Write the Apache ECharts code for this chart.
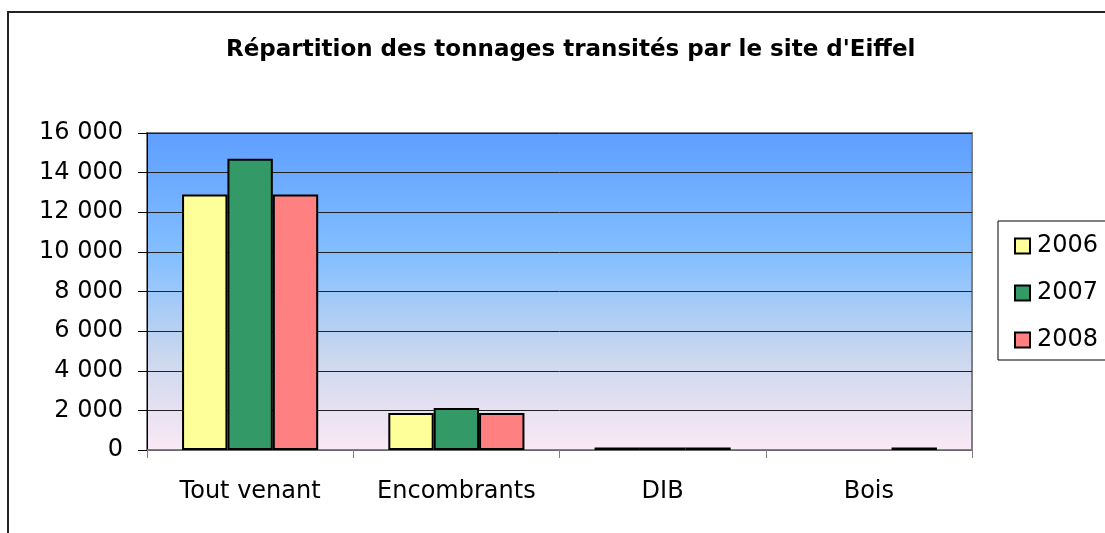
<!DOCTYPE html>
<html>
<head>
<meta charset="utf-8">
<script src="https://cdn.jsdelivr.net/npm/echarts@6/dist/echarts.min.js"></script>
<style>
  html, body { margin: 0; padding: 0; background: #fff; }
  #chart { width: 1105px; height: 533px; }
</style>
</head>
<body>
<div id="chart"></div>
<script>
// données
const categories = ['Tout venant', 'Encombrants', 'DIB', 'Bois'];
const years = ['2006', '2007', '2008'];
const values2006 = [12900, 1870, 120, 0];
const values2007 = [14700, 2120, 120, 0];
const values2008 = [12900, 1870, 120, 120];
const yTicks = [0, 2000, 4000, 6000, 8000, 10000, 12000, 14000, 16000];

const colors = ['#FFFF99', '#339966', '#FF8080'];
const font = '"DejaVu Sans", Arial, sans-serif';

const chart = echarts.init(document.getElementById('chart'));

const seriesData = [values2006, values2007, values2008];

chart.setOption({
  animation: false,
  textStyle: { fontFamily: font },
  title: {
    text: "Répartition des tonnages transités par le site d'Eiffel",
    left: 221,
    top: 34,
    textStyle: { fontSize: 23, fontWeight: 'bold', color: '#000', fontFamily: font }
  },
  graphic: [
    {
      type: 'rect',
      shape: { x: 8, y: 12, width: 1200, height: 600 },
      style: { fill: 'none', stroke: '#222', lineWidth: 2 },
      z: -10
    },
    {
      type: 'rect',
      shape: { x: 998, y: 221, width: 200, height: 139 },
      style: { fill: '#fff', stroke: '#000', lineWidth: 1 },
      z: 0
    }
  ],
  legend: {
    orient: 'vertical',
    left: 1009,
    top: 229,
    itemGap: 23,
    itemWidth: 15,
    itemHeight: 15,
    icon: 'rect',
    data: years,
    textStyle: { fontSize: 24, color: '#000', fontFamily: font, padding: [0, 0, 0, 2] },
    z: 5
  },
  grid: {
    left: 147,
    right: 133,
    top: 133,
    bottom: 83,
    show: true,
    borderColor: '#808080',
    borderWidth: 2,
    backgroundColor: new echarts.graphic.LinearGradient(0, 0, 0, 1, [
      { offset: 0, color: '#5E9EFF' },
      { offset: 0.4, color: '#85C0FF' },
      { offset: 0.7, color: '#CAD7EE' },
      { offset: 1, color: '#FBE9F6' }
    ])
  },
  xAxis: {
    type: 'category',
    data: categories,
    axisLine: { lineStyle: { color: '#808080', width: 1.5 } },
    axisTick: { show: true, alignWithLabel: false, length: 8, lineStyle: { color: '#808080' } },
    axisLabel: { fontSize: 24, color: '#000', margin: 30, fontFamily: font }
  },
  yAxis: {
    type: 'value',
    min: 0,
    max: 16000,
    interval: 2000,
    axisLine: { show: true, lineStyle: { color: '#000', width: 1 } },
    axisTick: { show: true, length: 9, lineStyle: { color: '#000' } },
    splitLine: { lineStyle: { color: '#222', width: 1 } },
    axisLabel: {
      fontSize: 24,
      color: '#000',
      margin: 24,
      fontFamily: font,
      formatter: v => yTicks.includes(v) ? String(v).replace(/\B(?=(\d{3})+(?!\d))/g, ' ') : ''
    }
  },
  series: years.map((y, i) => ({
    name: y,
    type: 'bar',
    // pas de contour pour les valeurs nulles
    data: seriesData[i].map(v => v === 0 ? { value: v, itemStyle: { borderWidth: 0 } } : v),
    barGap: '0%',
    barCategoryGap: '34%',
    itemStyle: { color: colors[i], borderColor: '#000', borderWidth: 2 }
  }))
});
</script>
</body>
</html>
